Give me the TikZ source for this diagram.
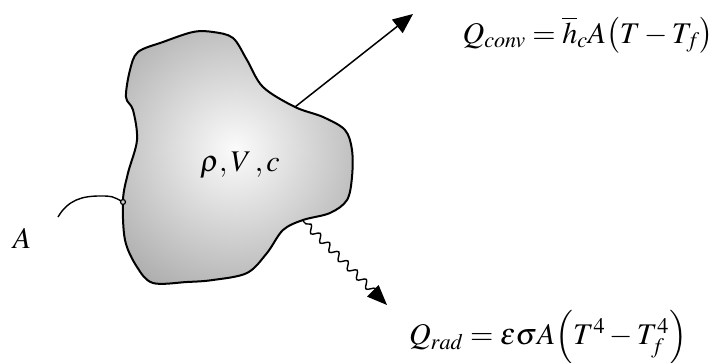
\documentclass[tikz,border=0pt]{standalone}
\usepackage{amsmath}
\usepackage{mathptmx}
\usetikzlibrary{arrows.meta,positioning,calc,decorations.pathmorphing}

\tikzset{
  outline/.style={draw=black, line width=2pt},
  flux/.style={line width=1.5pt, -{Triangle[length=20pt, width=17pt]}},
  wavy/.style={line width=1.4pt, -{Triangle[length=20pt, width=16pt]}, decorate,
    decoration={snake, amplitude=3.5pt, segment length=13pt, pre length=4pt, post length=12pt}},
  lbl/.style={inner sep=0pt, font=\fontsize{30}{36}\selectfont}
}

\newcommand{\blobpts}{(138,52) (163,42) (193,32) (213,32) (233,38) (247,60) (263,87)
  (295,107) (323,117) (345,130) (352,150) (352,177) (347,200) (330,213) (303,220)
  (283,230) (267,253) (247,273) (213,280) (187,282) (153,283) (137,267) (125,240)
  (123,200) (128,173) (137,140) (133,110) (126,97) (130,70)}

\begin{document}
\begin{tikzpicture}[x=1pt, y=-1pt]
    \useasboundingbox (0,0) rectangle (727,363);

    % --- body (shaded blob) ---
    \begin{scope}
      \clip plot[smooth cycle, tension=0.55] coordinates {\blobpts};
      \shade[inner color=gray!3, outer color=gray!65] (235,150) circle[radius=160pt];
    \end{scope}
    \draw[outline] plot[smooth cycle, tension=0.55] coordinates {\blobpts};

    \node[lbl] (props) at (240,165) {$\rho,V\,,c$};

    % --- convection ---
    \coordinate (convstart) at (295,107);
    \coordinate (convtip) at (413,14);
    \draw[flux] (convstart) -- (convtip);
    \node[lbl] (qconv) at (588,35) {$Q_{conv}=\overline{h}_{c}A\bigl(T-T_{f}\bigr)$};

    % --- radiation ---
    \coordinate (radstart) at (303,221);
    \coordinate (radtip) at (387,305);
    \draw[wavy] (radstart) -- (radtip);
    \node[lbl] (qrad) at (548,337) {$Q_{rad}=\varepsilon\sigma A\Bigl(T^{4}-T_{f}^{4}\Bigr)$};

    % --- surface area ---
    \node[lbl] (area) at (22,238) {$A$};
    \coordinate (leadstart) at (58,217);
    \coordinate (surfpt) at (123,202);
    \draw[line width=1.4pt] (leadstart) .. controls (68,200) and (82,196) .. (100,196)
      .. controls (112,196) .. (surfpt);
    \draw[line width=1.2pt, fill=gray!40] (surfpt) circle[radius=2.5pt];
  \end{tikzpicture}
\end{document}
